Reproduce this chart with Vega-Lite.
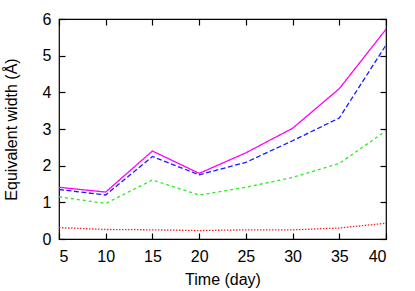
{
  "$schema": "https://vega.github.io/schema/vega-lite/v6.json",
  "width": 327,
  "height": 220,
  "autosize": {"type": "none"},
  "padding": {"left": 59, "top": 19, "right": 29, "bottom": 52},
  "config": {
    "view": {"stroke": "#000000", "strokeWidth": 1.2},
    "font": "Liberation Sans",
    "axis": {
      "domain": false,
      "grid": false,
      "tickColor": "#000000",
      "tickSize": -6,
      "tickWidth": 1.2,
      "labelFont": "Liberation Sans",
      "labelFontSize": 16,
      "labelColor": "#000000",
      "titleFont": "Liberation Sans",
      "titleFontSize": 16,
      "titleFontWeight": "normal",
      "titleColor": "#000000"
    }
  },
  "data": {
    "values": [
      {"t": 5, "s": "A", "ew": 1.41}, {"t": 10, "s": "A", "ew": 1.28}, {"t": 15, "s": "A", "ew": 2.4}, {"t": 20, "s": "A", "ew": 1.79},
      {"t": 25, "s": "A", "ew": 2.35}, {"t": 30, "s": "A", "ew": 3.02}, {"t": 35, "s": "A", "ew": 4.1}, {"t": 40, "s": "A", "ew": 5.72},
      {"t": 5, "s": "B", "ew": 1.35}, {"t": 10, "s": "B", "ew": 1.2}, {"t": 15, "s": "B", "ew": 2.25}, {"t": 20, "s": "B", "ew": 1.75},
      {"t": 25, "s": "B", "ew": 2.09}, {"t": 30, "s": "B", "ew": 2.68}, {"t": 35, "s": "B", "ew": 3.3}, {"t": 40, "s": "B", "ew": 5.29},
      {"t": 5, "s": "C", "ew": 1.15}, {"t": 10, "s": "C", "ew": 0.97}, {"t": 15, "s": "C", "ew": 1.61}, {"t": 20, "s": "C", "ew": 1.2},
      {"t": 25, "s": "C", "ew": 1.41}, {"t": 30, "s": "C", "ew": 1.68}, {"t": 35, "s": "C", "ew": 2.06}, {"t": 40, "s": "C", "ew": 2.95},
      {"t": 5, "s": "D", "ew": 0.31}, {"t": 10, "s": "D", "ew": 0.26}, {"t": 15, "s": "D", "ew": 0.25}, {"t": 20, "s": "D", "ew": 0.23},
      {"t": 25, "s": "D", "ew": 0.25}, {"t": 30, "s": "D", "ew": 0.25}, {"t": 35, "s": "D", "ew": 0.3}, {"t": 40, "s": "D", "ew": 0.43}
    ]
  },
  "layer": [
    {
      "mark": {"type": "line", "strokeWidth": 1.3, "clip": true},
      "encoding": {
        "x": {"field": "t", "type": "quantitative", "scale": {"domain": [5, 40], "nice": false, "zero": false},
          "axis": {"orient": "bottom", "title": "Time (day)", "values": [5, 10, 15, 20, 25, 30, 35, 40], "labelPadding": 15, "titlePadding": 7}},
        "y": {"field": "ew", "type": "quantitative", "scale": {"domain": [0, 6], "nice": false},
          "axis": {"orient": "left", "title": "Equivalent width (Å)", "values": [0, 1, 2, 3, 4, 5, 6], "labelPadding": 14, "titlePadding": 23}},
        "color": {"field": "s", "type": "nominal", "legend": null,
          "scale": {"domain": ["A", "B", "C", "D"], "range": ["#ff00ff", "#1a1aff", "#22ee22", "#ff2020"]}},
        "strokeDash": {"field": "s", "type": "nominal", "legend": null,
          "scale": {"domain": ["A", "B", "C", "D"], "range": [[1, 0], [5, 2.5], [3, 3], [1.5, 1.5]]}}
      }
    },
    {
      "mark": {"type": "line", "opacity": 0},
      "encoding": {
        "x": {"field": "t", "type": "quantitative", "scale": {"domain": [5, 40], "nice": false, "zero": false},
          "axis": {"orient": "top", "title": null, "labels": false, "values": [5, 10, 15, 20, 25, 30, 35, 40]}},
        "y": {"field": "ew", "type": "quantitative", "scale": {"domain": [0, 6], "nice": false},
          "axis": {"orient": "right", "title": null, "labels": false, "values": [0, 1, 2, 3, 4, 5, 6]}},
        "detail": {"field": "s"}
      }
    }
  ],
  "resolve": {"axis": {"x": "independent", "y": "independent"}}
}
